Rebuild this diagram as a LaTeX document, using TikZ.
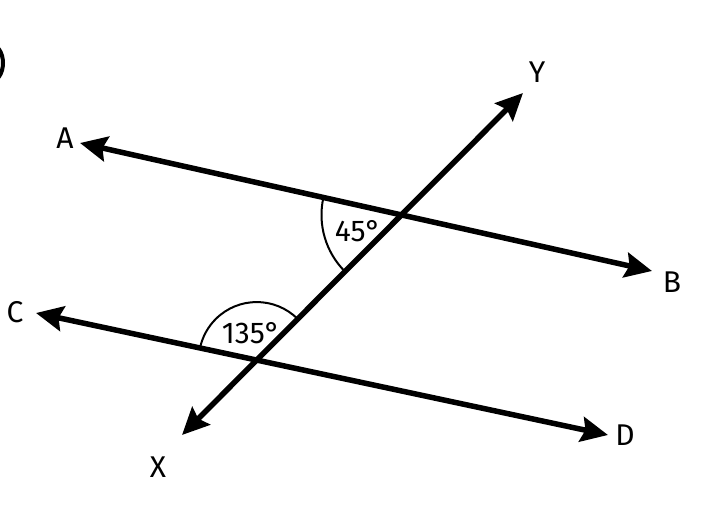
\documentclass[tikz,border=0pt]{standalone}
\usepackage{fontspec}
\setmainfont{Fira Sans}
\usetikzlibrary{arrows.meta,calc}
\begin{document}
\begin{tikzpicture}[x=1pt,y=1pt,
  mainline/.style={line width=5.5pt, {Stealth[length=27pt,width=25pt,inset=4pt]}-{Stealth[length=27pt,width=25pt,inset=4pt]}},
  anglearc/.style={line width=2pt},
  ptlabel/.style={font=\fontsize{30}{30}\selectfont, inner sep=0pt},
  anglabel/.style={font=\fontsize{30}{30}\selectfont, inner sep=0pt}]
\useasboundingbox (0,0) rectangle (712,512);
% cut-off bracket at top left
\draw[line width=4pt] (-10,449) ellipse[x radius=13, y radius=19];
% end points
\coordinate (A) at (80,369);
\coordinate (B) at (652,241);
\coordinate (C) at (36,199);
\coordinate (D) at (608,77);
\coordinate (X) at (182,77);
\coordinate (Y) at (523,419);
\coordinate (P1) at (intersection of A--B and X--Y);
\coordinate (P2) at (intersection of C--D and X--Y);
% lines
\draw[mainline] (A) -- (B);
\draw[mainline] (C) -- (D);
\draw[mainline] (X) -- (Y);
% angle arcs
\draw[anglearc] ($(P1)+(167.4:80)$) arc[start angle=167.4, end angle=225, radius=80];
\draw[anglearc] ($(P2)+(45:58)$) arc[start angle=45, end angle=168, radius=58];
% labels
\node[ptlabel] (lA) at (65,374) {A};
\node[ptlabel] (lB) at (672,230) {B};
\node[ptlabel] (lC) at (15,200) {C};
\node[ptlabel] (lD) at (625,77) {D};
\node[ptlabel] (lX) at (158,45) {X};
\node[ptlabel] (lY) at (537,440) {Y};
\node[anglabel] (a45) at (358,281) {45°};
\node[anglabel] (a135) at (251,179) {135°};
\end{tikzpicture}
\end{document}
